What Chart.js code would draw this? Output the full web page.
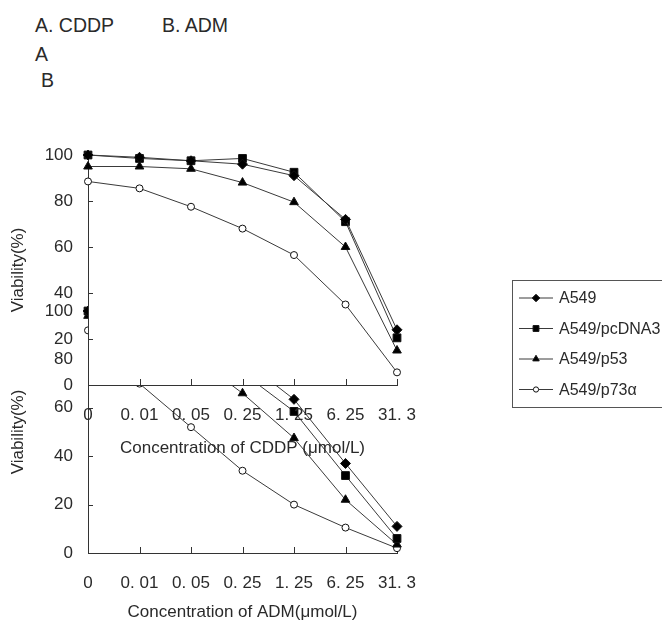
<!DOCTYPE html>
<html>
<head>
<meta charset="utf-8">
<script src="https://cdn.jsdelivr.net/npm/chart.js@4.4.1/dist/chart.umd.min.js"></script>
<style>
body { margin: 0; background: #fff; width: 662px; height: 623px; overflow: hidden; position: relative;
       font-family: "Liberation Sans", Arial, sans-serif; color: #2a2a2a; }
canvas { position: absolute; left: 0; top: 0; }
.head { position: absolute; font-size: 19.5px; white-space: pre; line-height: 20px; }
</style>
</head>
<body>
<div class="head" style="left:35px;top:15px">A. CDDP</div>
<div class="head" style="left:162px;top:15px">B. ADM</div>
<div class="head" style="left:35px;top:44px">A</div>
<div class="head" style="left:41px;top:70px">B</div>
<canvas id="chartB" width="662" height="623"></canvas>
<canvas id="chartA" width="662" height="623"></canvas>
<script>
"use strict";
// categories (concentrations, umol/L)
const concLabels = ["0", "0. 01", "0. 05", "0. 25", "1. 25", "6. 25", "31. 3"];
const seriesNames = ["A549", "A549/pcDNA3", "A549/p53", "A549/p73\u03b1"];
const yTickValues = [0, 20, 40, 60, 80, 100];

// A. CDDP viability (%)
const cddpA549   = [100, 99, 97.5, 96, 91, 72, 24];
const cddpPcDNA3 = [100, 98.5, 97.5, 98.5, 92.5, 71, 20.5];
const cddpP53    = [95, 95, 94, 88, 79.5, 60, 15];
const cddpP73    = [88.5, 85.5, 77.5, 68, 56.5, 35, 5.5];

// B. ADM viability (%)
const admA549   = [100, 98, 95, 80, 63.5, 37, 11];
const admPcDNA3 = [100, 97, 93, 74.5, 58.5, 32, 6];
const admP53    = [98, 95, 82, 66, 47.5, 22, 3.5];
const admP73    = [92, 70, 52, 34, 20, 10.5, 2];

// marker look per series
const markerStyles = [
    { pointStyle: "rectRot", radius: 5, fill: "#000" },
    { pointStyle: "rect", radius: 5.5, fill: "#000" },
    { pointStyle: "triangle", radius: 5, fill: "#000" },
    { pointStyle: "circle", radius: 3.5, fill: "#fff" }
];

const FONT = "'Liberation Sans', Arial, sans-serif";
const TEXT = "#2a2a2a";

function makeDatasets(rows) {
    return rows.map(function (values, i) {
        let st = markerStyles[i];
        return {
            label: seriesNames[i],
            data: values,
            borderColor: "#3a3a3a",
            borderWidth: 1,
            pointStyle: st.pointStyle,
            pointRadius: st.radius,
            pointBackgroundColor: st.fill,
            pointBorderColor: "#111",
            pointBorderWidth: 1,
            tension: 0,
            clip: false
        };
    });
}

// white plot area + inward tick marks (Excel style)
const innerTicks = {
    id: "innerTicks",
    beforeDraw(chart, args, opts) {
        if (!opts.fillArea) return;
        const a = chart.chartArea;
        const ctx = chart.ctx;
        ctx.save();
        ctx.fillStyle = "#fff";
        ctx.fillRect(a.left, a.top - 1, a.right - a.left + 6, a.bottom - a.top + 1);
        ctx.restore();
    },
    beforeDatasetsDraw(chart) {
        const ctx = chart.ctx;
        const a = chart.chartArea;
        const xs = chart.scales.x, ys = chart.scales.y;
        ctx.save();
        ctx.strokeStyle = "#333";
        ctx.lineWidth = 1;
        ctx.beginPath();
        for (let i = 1; i < xs.ticks.length; i++) {
            let px = Math.round(xs.getPixelForTick(i)) + 0.5;
            ctx.moveTo(px, a.bottom);
            ctx.lineTo(px, a.bottom - 6);
        }
        for (let i = 1; i < ys.ticks.length; i++) {
            let py = Math.round(ys.getPixelForTick(i)) + 0.5;
            ctx.moveTo(a.left, py);
            ctx.lineTo(a.left + 5, py);
        }
        ctx.stroke();
        ctx.restore();
    }
};

// boxed legend on the right
const boxLegend = {
    id: "boxLegend",
    afterDraw(chart, args, opts) {
        if (!opts.show) return;
        const ctx = chart.ctx;
        ctx.save();
        ctx.strokeStyle = "#555";
        ctx.lineWidth = 1;
        ctx.strokeRect(512.5, 280.5, 200, 127);
        ctx.font = "16px " + FONT;
        ctx.textBaseline = "middle";
        chart.data.datasets.forEach(function (ds, i) {
            let y = 298 + i * 30.5;
            ctx.strokeStyle = "#3a3a3a";
            ctx.beginPath();
            ctx.moveTo(519, y);
            ctx.lineTo(553, y);
            ctx.stroke();
            ctx.fillStyle = ds.pointBackgroundColor;
            ctx.strokeStyle = "#111";
            Chart.helpers.drawPoint(ctx, { pointStyle: ds.pointStyle, radius: ds.pointRadius * 0.75, rotation: 0, borderWidth: 1 }, 536, y);
            ctx.fillStyle = TEXT;
            ctx.fillText(ds.label, 559, y + 1);
        });
        ctx.restore();
    }
};

function makeOptions(cfg) {
    return {
        responsive: false,
        animation: false,
        devicePixelRatio: 1,
        layout: { padding: { top: cfg.top, left: 0, right: 662 - 397, bottom: cfg.bottom } },
        plugins: {
            legend: { display: false },
            tooltip: { enabled: false },
            innerTicks: { fillArea: cfg.fillArea },
            boxLegend: { show: cfg.legend }
        },
        scales: {
            x: {
                offset: false,
                grid: { display: false, drawTicks: false },
                border: { display: true, color: "#333", width: 1 },
                ticks: { color: TEXT, font: { family: FONT, size: 17 }, padding: cfg.tickPad, maxRotation: 0, autoSkip: false },
                title: { display: true, text: cfg.xTitle, color: TEXT, font: { family: FONT, size: 17 }, padding: { top: 0, bottom: cfg.titlePad } },
                afterFit: function (scale) { scale.height = cfg.xHeight; }
            },
            y: {
                min: 0,
                max: 100,
                afterBuildTicks: function (scale) {
                    scale.ticks = yTickValues.map(function (v) { return { value: v }; });
                },
                grid: { display: false, drawTicks: false },
                border: { display: true, color: "#333", width: 1 },
                ticks: { color: TEXT, font: { family: FONT, size: 17 }, padding: 15 },
                title: { display: true, text: "Viability(%)", color: TEXT, font: { family: FONT, size: 17 }, padding: { top: 8, bottom: 0 } },
                afterFit: function (scale) { scale.width = 88; }
            }
        }
    };
}

new Chart(document.getElementById("chartB"), {
    type: "line",
    data: { labels: concLabels, datasets: makeDatasets([admA549, admPcDNA3, admP53, admP73]) },
    options: makeOptions({ top: 311, bottom: 0, xHeight: 70, tickPad: 20, titlePad: 0,
        xTitle: "Concentration of ADM(\u03bcmol/L)", fillArea: false, legend: false }),
    plugins: [innerTicks, boxLegend]
});

new Chart(document.getElementById("chartA"), {
    type: "line",
    data: { labels: concLabels, datasets: makeDatasets([cddpA549, cddpPcDNA3, cddpP53, cddpP73]) },
    options: makeOptions({ top: 155, bottom: 158, xHeight: 80, tickPad: 20, titlePad: 6,
        xTitle: "Concentration of CDDP (\u03bcmol/L)", fillArea: true, legend: true }),
    plugins: [innerTicks, boxLegend]
});
</script>
</body>
</html>
